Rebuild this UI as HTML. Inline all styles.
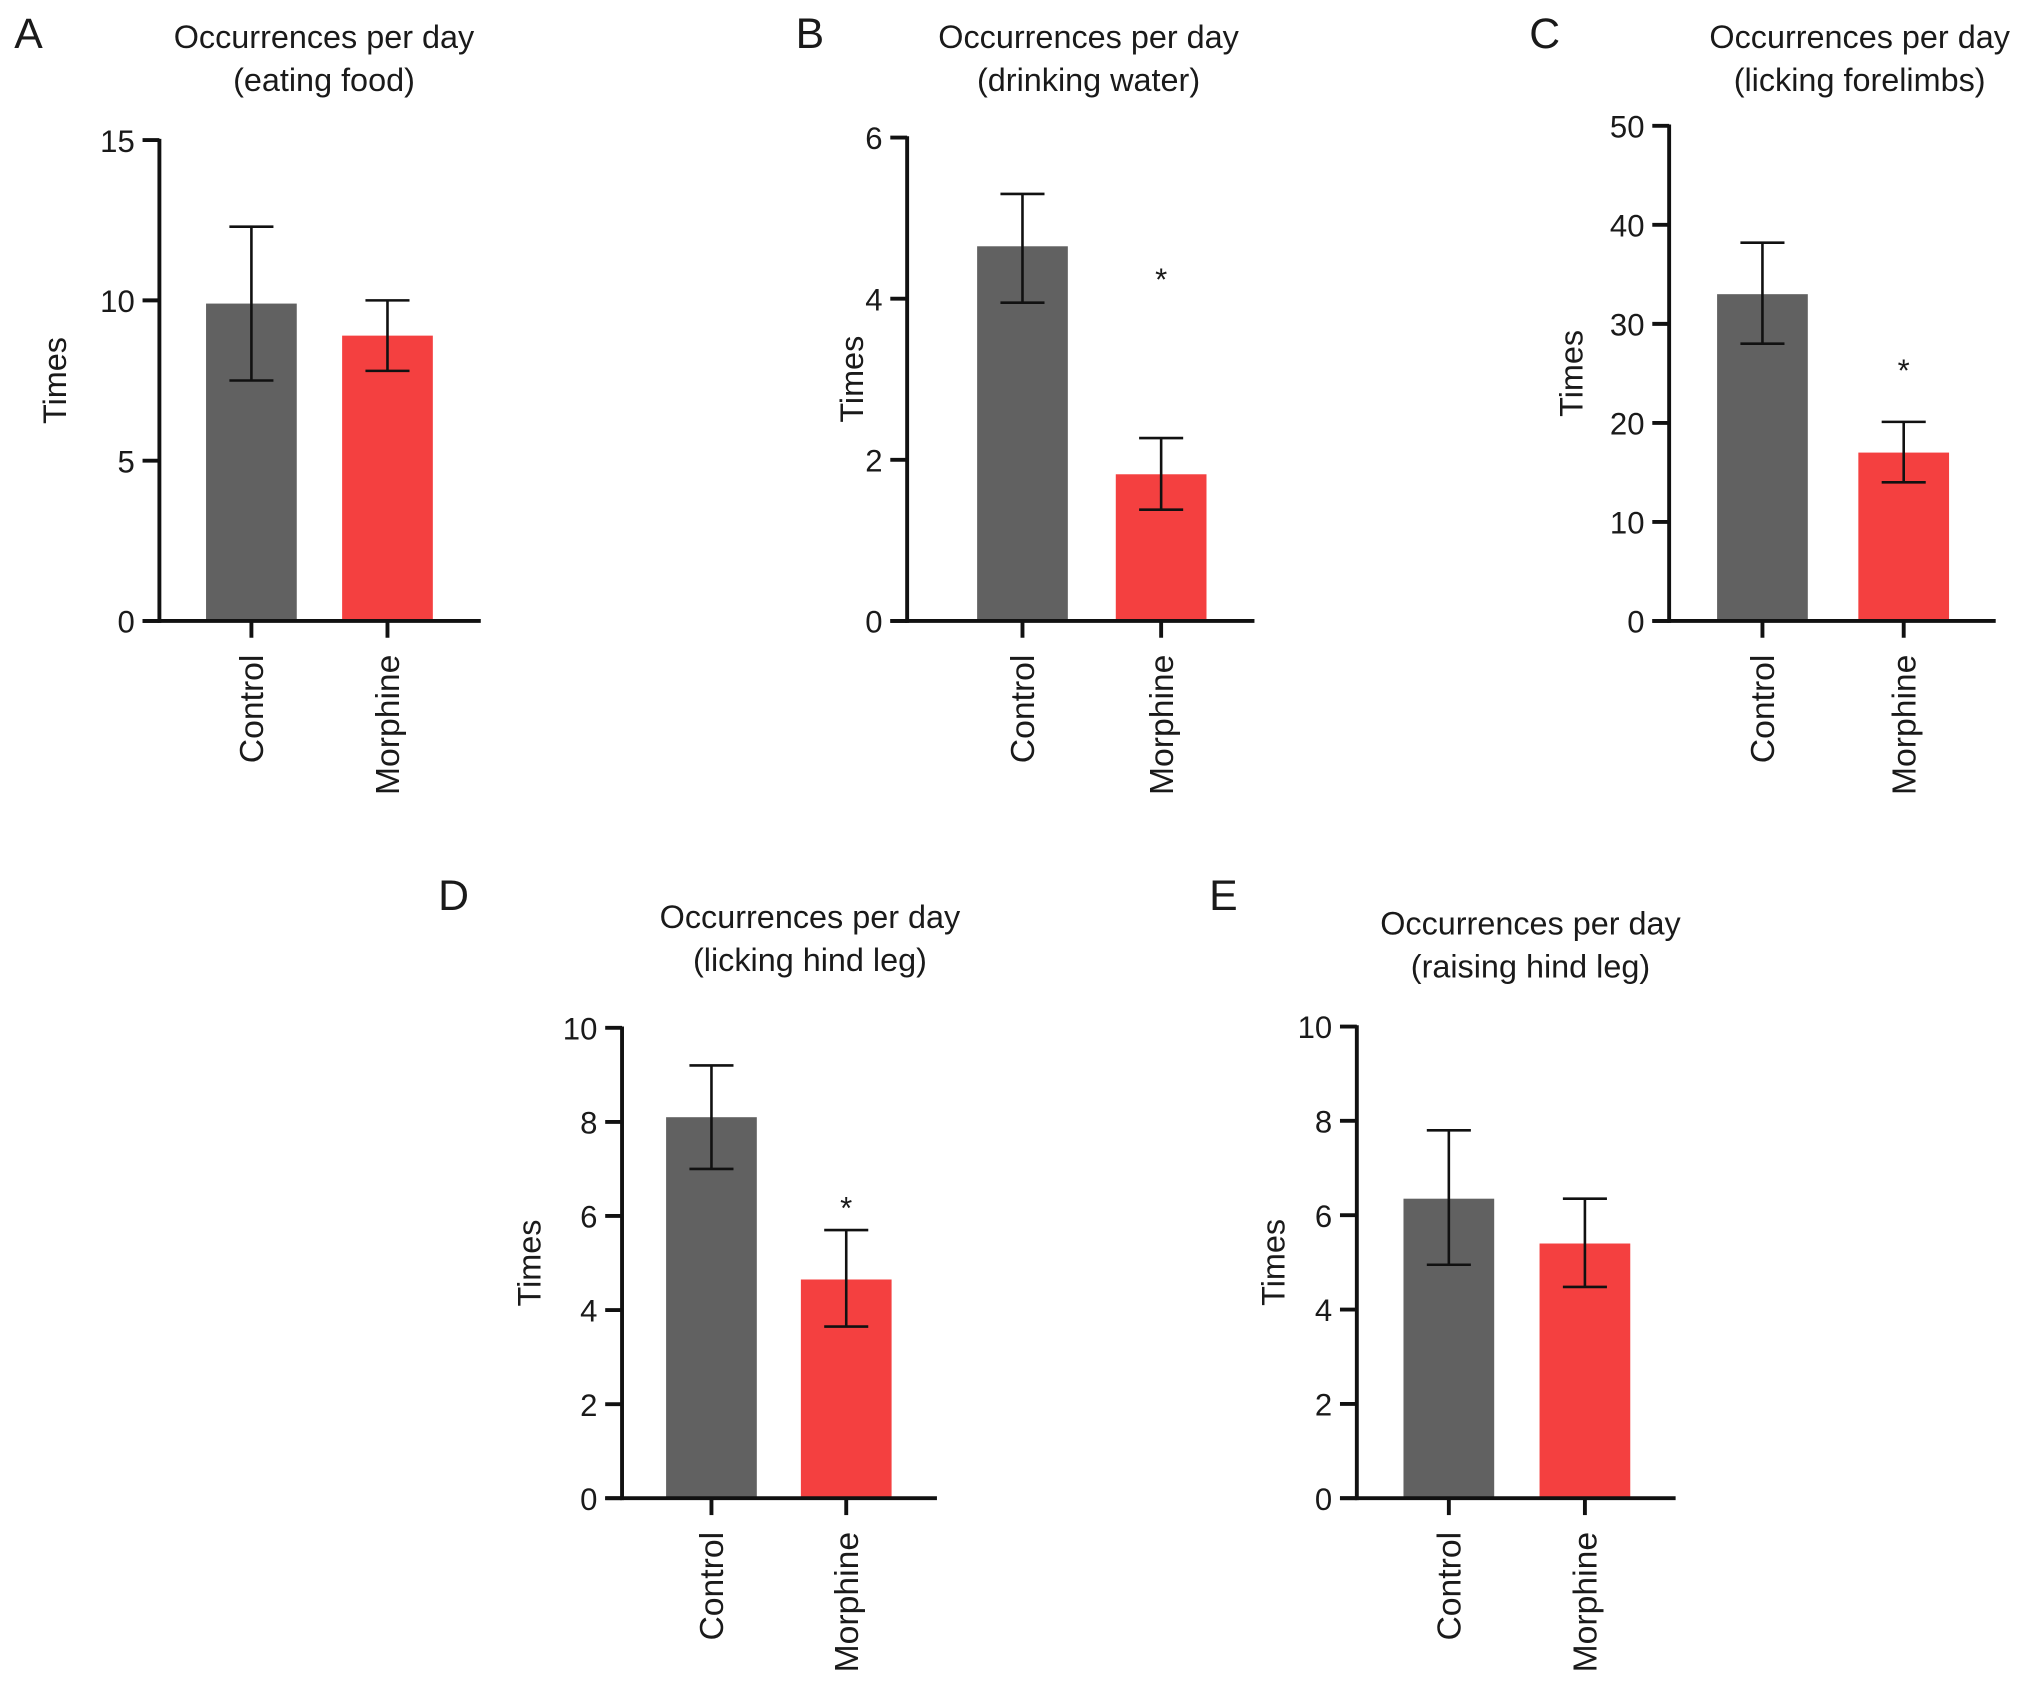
<!DOCTYPE html>
<html><head><meta charset="utf-8"><style>
html,body{margin:0;padding:0;background:#fff}
svg{display:block}
text{font-family:"Liberation Sans",Arial,sans-serif;fill:#1a1a1a}
</style></head><body>
<svg id="fig" width="2032" height="1685" viewBox="0 0 1568 1300" xmlns="http://www.w3.org/2000/svg"></svg>
<script>
const categories = ["Control","Morphine"];
const panelLetters = ["A","B","C","D","E"];
const panelTitles = ["(eating food)","(drinking water)","(licking forelimbs)","(licking hind leg)","(raising hind leg)"];
const meansA = [9.9, 8.9];  const errLoA = [7.5, 7.8];  const errHiA = [12.3, 10.0];
const meansB = [4.65, 1.82]; const errLoB = [3.95, 1.38]; const errHiB = [5.3, 2.27];
const meansC = [33, 17];   const errLoC = [28, 14];   const errHiC = [38.2, 20.1];
const meansD = [8.1, 4.65]; const errLoD = [7.0, 3.65]; const errHiD = [9.2, 5.7];
const meansE = [6.35, 5.4]; const errLoE = [4.95, 4.48]; const errHiE = [7.8, 6.35];
const yMaxes = [15, 6, 50, 10, 10];
const tickLabelsA = [0,5,10,15];
const tickLabelsB = [0,2,4,6];
const tickLabelsC = [0,10,20,30,40,50];
const tickLabelsD = [0,2,4,6,8,10];
const tickLabelsE = [0,2,4,6,8,10];
const signif = [[false,false],[false,true],[false,true],[false,true],[false,false]];
const starLevels = [null, 4.3, 25.8, 6.28, null];

const layouts = [
 {ax:123,y0:479,yTop:108,xEnd:371,c:[194,299],tc:250,ty:28,lx:22,ly:25,timesX:42},
 {ax:700,y0:479,yTop:106,xEnd:968,c:[789,896],tc:840,ty:28,lx:625,ly:25,timesX:657},
 {ax:1288,y0:479,yTop:97,xEnd:1540,c:[1360,1469],tc:1435,ty:28,lx:1192,ly:25,timesX:1212},
 {ax:480,y0:1156,yTop:793,xEnd:723,c:[549,653],tc:625,ty:707,lx:350,ly:690,timesX:408},
 {ax:1047,y0:1156,yTop:792,xEnd:1293,c:[1118,1223],tc:1181,ty:712,lx:944,ly:690,timesX:982}
];
const means=[meansA,meansB,meansC,meansD,meansE];
const los=[errLoA,errLoB,errLoC,errLoD,errLoE];
const his=[errHiA,errHiB,errHiC,errHiD,errHiE];
const ticks=[tickLabelsA,tickLabelsB,tickLabelsC,tickLabelsD,tickLabelsE];
const colors=["#616161","#f44040"];
const NS="http://www.w3.org/2000/svg";
const svg=document.getElementById('fig');
function mk(tag,attrs,parent,txt){const e=document.createElementNS(NS,tag);for(const k in attrs)e.setAttribute(k,attrs[k]);if(txt!==undefined)e.textContent=txt;parent.appendChild(e);return e;}

layouts.forEach((L,p)=>{
  const g=mk('g',{},svg);
  
  
  const y=v=>L.y0-(v/yMaxes[p])*(L.y0-L.yTop);
  const lt=mk('text',{x:L.lx,y:L.ly+12,'font-size':33,'text-anchor':'middle'},g,panelLetters[p]);
  
  
  const t1=mk('text',{x:L.tc,y:L.ty+9,'font-size':25,'text-anchor':'middle'},g,'Occurrences per day');
  
  
  const t2=mk('text',{x:L.tc,y:L.ty+42,'font-size':25,'text-anchor':'middle'},g,panelTitles[p]);
  
  
  categories.forEach((c,i)=>{
    const cx=L.c[i];
    const b=mk('rect',{x:cx-35,y:y(means[p][i]),width:70,height:L.y0-y(means[p][i]),fill:colors[i]},g);
    
    
    const e=mk('path',{d:`M${cx},${y(los[p][i])}V${y(his[p][i])}M${cx-17},${y(his[p][i])}H${cx+17}M${cx-17},${y(los[p][i])}H${cx+17}`,stroke:'#111','stroke-width':2,fill:'none'},g);
    
    
    if(signif[p][i]){
      const s=mk('text',{x:cx,y:y(starLevels[p])+12,'font-size':24,'text-anchor':'middle'},g,'*');
      
      
    }
    const tk=mk('line',{x1:cx,y1:L.y0,x2:cx,y2:L.y0+13,stroke:'#111','stroke-width':3},g);
    
    
    const cl=mk('text',{transform:`translate(${cx+9},${L.y0+26}) rotate(-90)`,'font-size':26,'text-anchor':'end'},g,c);
    
    
  });
  const ya=mk('line',{x1:L.ax,y1:L.yTop-1,x2:L.ax,y2:L.y0+1.5,stroke:'#111','stroke-width':3},g);
  
  
  const xa=mk('line',{x1:L.ax-13,y1:L.y0,x2:L.xEnd,y2:L.y0,stroke:'#111','stroke-width':3},g);
  
  
  ticks[p].forEach(v=>{
    const tl=mk('line',{x1:L.ax-13,y1:y(v),x2:L.ax,y2:y(v),stroke:'#111','stroke-width':3},g);
    
    
    const tt=mk('text',{x:L.ax-19,y:y(v)+9,'font-size':24,'text-anchor':'end'},g,String(v));
    
    
  });
  const ym=(L.y0+L.yTop)/2;
  const yt=mk('text',{transform:`translate(${L.timesX+9},${ym}) rotate(-90)`,'font-size':25,'text-anchor':'middle'},g,'Times');
  
  
});
</script>
</body></html>
